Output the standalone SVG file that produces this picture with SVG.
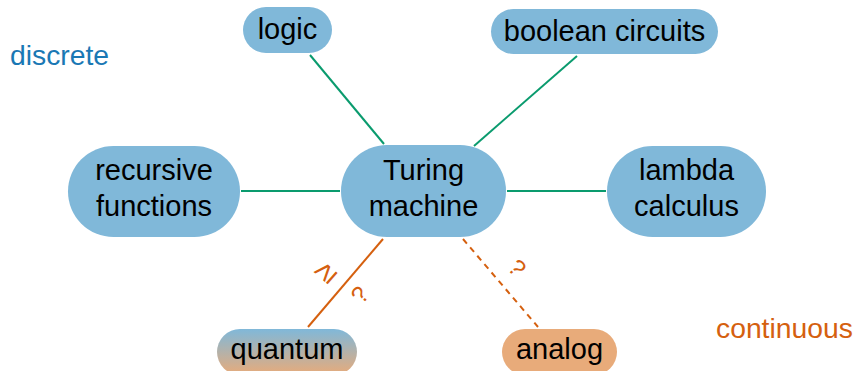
<svg xmlns="http://www.w3.org/2000/svg" width="857" height="371" viewBox="0 0 857 371">
<defs>
<linearGradient id="qgrad" x1="0" y1="0" x2="0" y2="1">
<stop offset="0" stop-color="#80b8d9"/>
<stop offset="1" stop-color="#e8ab7a"/>
</linearGradient>
<style>
.node{fill:#80b8d9;}
.lbl{font-family:"Liberation Sans",Arial,sans-serif;font-size:29px;fill:#000;text-anchor:middle;}
.green{stroke:#0a9b6e;stroke-width:2;fill:none;}
.orange{stroke:#d5600f;stroke-width:2;fill:none;}
.olbl{font-family:"Liberation Sans",sans-serif;font-size:24px;fill:#d5600f;text-anchor:middle;}
</style>
</defs>
<rect width="857" height="371" fill="#fff"/>
<text x="10" y="65" style="font-family:'Liberation Sans',Arial,sans-serif;font-size:28.3px;fill:#1a78b4">discrete</text>
<text x="716" y="338" style="font-family:'Liberation Sans',Arial,sans-serif;font-size:28.3px;fill:#d5600f">continuous</text>
<g id="connectors">
<line class="green" x1="310" y1="55" x2="384" y2="144"/>
<line class="green" x1="577" y1="56" x2="474" y2="146"/>
<line class="green" x1="241" y1="191" x2="340" y2="191"/>
<line class="green" x1="507" y1="191" x2="606" y2="191"/>
<line class="orange" x1="383" y1="239" x2="308" y2="327"/>
<line class="orange" x1="463" y1="239" x2="538" y2="327" stroke-dasharray="6,5"/>
<text class="olbl" transform="translate(325,272) rotate(-49)" dy="10" style="font-family:'DejaVu Sans',sans-serif;font-size:31px;font-weight:200">≥</text>
<text class="olbl" transform="translate(360,295) rotate(-49)" dy="8">?</text>
<text class="olbl" transform="translate(517,268) rotate(49)" dy="8">?</text>
</g>
<g id="logic">
<rect class="node" x="243" y="7" width="89" height="46" rx="23"/>
<text class="lbl" x="287.5" y="39">logic</text>
</g>
<g id="boolean">
<rect class="node" x="491" y="9" width="227" height="45" rx="22.5"/>
<text class="lbl" x="604.5" y="41">boolean circuits</text>
</g>
<g id="recursive">
<rect class="node" x="68" y="146" width="172" height="91" rx="45.5"/>
<text class="lbl" x="154" y="180">recursive</text>
<text class="lbl" x="154" y="216">functions</text>
</g>
<g id="turing">
<rect class="node" x="341" y="145" width="165" height="92" rx="46"/>
<text class="lbl" x="423.5" y="180">Turing</text>
<text class="lbl" x="423.5" y="216">machine</text>
</g>
<g id="lambda">
<rect class="node" x="607" y="146" width="159" height="91" rx="45.5"/>
<text class="lbl" x="686.5" y="180">lambda</text>
<text class="lbl" x="686.5" y="216">calculus</text>
</g>
<g id="quantum">
<rect x="217" y="329" width="140" height="46" rx="23" fill="url(#qgrad)"/>
<text class="lbl" x="287" y="359">quantum</text>
</g>
<g id="analog">
<rect x="502" y="329" width="115" height="46" rx="23" fill="#e8ab7a"/>
<text class="lbl" x="559.5" y="359">analog</text>
</g>
</svg>
